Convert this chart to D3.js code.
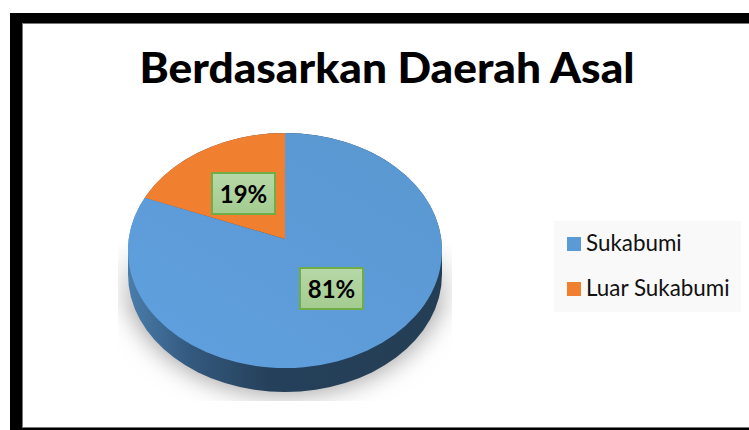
<!DOCTYPE html>
<html>
<head>
<meta charset="utf-8">
<script src="https://cdn.jsdelivr.net/npm/d3@7"></script>
<style>
  html, body { margin: 0; padding: 0; background: #fff; overflow: hidden; }
  svg { display: block; }
</style>
</head>
<body>
<div id="chart"></div>
<script>
var chartTitle = "Berdasarkan Daerah Asal";
var categories = ["Sukabumi", "Luar Sukabumi"];
var percentValues = [81, 19];
var sliceColors = ["url(#blueGrad)", "#f07f30"];
var legendColors = ["#5b9bd5", "#f07f30"];

var width = 749, height = 430;
var fontFamily = "Lato, 'Open Sans', sans-serif";

var svg = d3.select("#chart").append("svg")
  .attr("width", width)
  .attr("height", height);

var defs = svg.append("defs");

// frame
svg.append("rect").attr("width", width).attr("height", height).attr("fill", "#fff");
svg.append("rect").attr("x", 10).attr("y", 13).attr("width", 739).attr("height", 417).attr("fill", "#000");
svg.append("rect").attr("x", 22.5).attr("y", 23.5).attr("width", 730).attr("height", 404)
  .attr("fill", "#fff").attr("stroke", "#777");

svg.append("text")
  .attr("x", 387).attr("y", 83)
  .attr("text-anchor", "middle")
  .attr("font-family", fontFamily)
  .attr("font-weight", 900)
  .attr("font-size", 42)
  .attr("textLength", 495)
  .attr("lengthAdjust", "spacingAndGlyphs")
  .attr("fill", "#000")
  .text(chartTitle);

// pie is a tilted disc, the centre sits above the middle of the ellipse
var cx = 285, ey = 250.5, rx = 157, ry = 117.5, depth = 24, apexY = 239;
var k = (ey - apexY) / ry;

function project(angle) {
  var u = Math.sin(angle), v = Math.cos(angle), w = 1 + k * v;
  return [cx + rx * Math.sqrt(1 - k * k) * u / w, ey - (ry * v + ry * k) / w];
}

var pie = d3.pie().sort(null).value(function(d) { return d; });
var slices = pie(percentValues);

// shadow, fades out going up and is cut off at the sides and bottom
defs.append("filter").attr("id", "blur")
  .attr("x", "-20%").attr("y", "-20%").attr("width", "140%").attr("height", "140%")
  .append("feGaussianBlur").attr("stdDeviation", 12);
defs.append("clipPath").attr("id", "shadowClip")
  .append("rect").attr("x", 118).attr("y", 235).attr("width", 334).attr("height", 166);
var fade = defs.append("linearGradient").attr("id", "fadeGrad")
  .attr("gradientUnits", "userSpaceOnUse")
  .attr("x1", 0).attr("x2", 0).attr("y1", 240).attr("y2", 310);
fade.append("stop").attr("offset", 0).attr("stop-color", "#000");
fade.append("stop").attr("offset", 1).attr("stop-color", "#fff");
defs.append("mask").attr("id", "fadeMask")
  .attr("maskUnits", "userSpaceOnUse")
  .attr("x", 0).attr("y", 0).attr("width", width).attr("height", height)
  .append("rect").attr("width", width).attr("height", height).attr("fill", "url(#fadeGrad)");
svg.append("g").attr("clip-path", "url(#shadowClip)")
  .append("g").attr("mask", "url(#fadeMask)")
  .append("ellipse")
  .attr("cx", cx).attr("cy", ey + depth - 2)
  .attr("rx", rx + 5).attr("ry", ry + 5)
  .attr("fill", "#a6a6a6")
  .attr("filter", "url(#blur)");

// side wall
var sideGrad = defs.append("linearGradient").attr("id", "sideGrad")
  .attr("gradientUnits", "userSpaceOnUse")
  .attr("x1", cx - rx).attr("x2", cx + rx).attr("y1", 0).attr("y2", 0);
sideGrad.append("stop").attr("offset", 0).attr("stop-color", "#4a7dab");
sideGrad.append("stop").attr("offset", 0.2).attr("stop-color", "#33597e");
sideGrad.append("stop").attr("offset", 0.45).attr("stop-color", "#25405a");
sideGrad.append("stop").attr("offset", 1).attr("stop-color", "#243e55");

svg.append("path")
  .attr("d", "M" + (cx - rx) + "," + ey
    + "A" + rx + "," + ry + " 0 0 1 " + (cx + rx) + "," + ey
    + "V" + (ey + depth)
    + "A" + rx + "," + ry + " 0 0 1 " + (cx - rx) + "," + (ey + depth) + "Z")
  .attr("fill", "url(#sideGrad)");

// top face
var blueGrad = defs.append("linearGradient").attr("id", "blueGrad")
  .attr("gradientUnits", "userSpaceOnUse")
  .attr("x1", cx + 70).attr("y1", ey - ry).attr("x2", cx - 70).attr("y2", ey + ry);
blueGrad.append("stop").attr("offset", 0).attr("stop-color", "#5a98d2");
blueGrad.append("stop").attr("offset", 1).attr("stop-color", "#5f9fdd");

svg.append("g").selectAll("path")
  .data(slices)
  .enter().append("path")
    .attr("fill", function(d, i) { return sliceColors[i]; })
    .attr("d", function(d) {
      var p0 = project(d.startAngle), p1 = project(d.endAngle);
      var large = d.endAngle - d.startAngle > Math.PI ? 1 : 0;
      return "M" + cx + "," + apexY + "L" + p0 + "A" + rx + "," + ry + " 0 " + large + " 1 " + p1 + "Z";
    });

// data labels
var boxGrad = defs.append("linearGradient").attr("id", "boxGrad")
  .attr("x1", 0).attr("x2", 0).attr("y1", 0).attr("y2", 1);
boxGrad.append("stop").attr("offset", 0).attr("stop-color", "#b7d8a8");
boxGrad.append("stop").attr("offset", 1).attr("stop-color", "#a3cc90");

var labelBoxes = [{ x: 300, y: 268, w: 63, h: 41 }, { x: 212, y: 173, w: 63, h: 41 }];
var labels = svg.append("g").selectAll("g")
  .data(slices)
  .enter().append("g");
labels.append("rect")
  .attr("x", function(d, i) { return labelBoxes[i].x; })
  .attr("y", function(d, i) { return labelBoxes[i].y; })
  .attr("width", function(d, i) { return labelBoxes[i].w; })
  .attr("height", function(d, i) { return labelBoxes[i].h; })
  .attr("fill", "url(#boxGrad)")
  .attr("stroke", "#70ad47")
  .attr("stroke-width", 2);
labels.append("text")
  .attr("x", function(d, i) { return labelBoxes[i].x + labelBoxes[i].w / 2; })
  .attr("y", function(d, i) { return labelBoxes[i].y + labelBoxes[i].h / 2 + 9; })
  .attr("text-anchor", "middle")
  .attr("font-family", fontFamily)
  .attr("font-weight", 700)
  .attr("font-size", 24)
  .attr("fill", "#000")
  .text(function(d) { return d.value + "%"; });

// legend
var legendY = d3.scalePoint().domain(categories).range([244, 289]);
svg.append("rect").attr("x", 554).attr("y", 221).attr("width", 187).attr("height", 91).attr("fill", "#f9f9f9");
var legend = svg.append("g").selectAll("g")
  .data(categories)
  .enter().append("g");
legend.append("rect")
  .attr("x", 567)
  .attr("y", function(d) { return legendY(d) - 7; })
  .attr("width", 14).attr("height", 14)
  .attr("fill", function(d, i) { return legendColors[i]; });
legend.append("text")
  .attr("x", 586)
  .attr("y", function(d) { return legendY(d) + 7; })
  .attr("font-family", fontFamily)
  .attr("font-size", 22.4)
  .attr("fill", "#111")
  .text(function(d) { return d; });
</script>
</body>
</html>
